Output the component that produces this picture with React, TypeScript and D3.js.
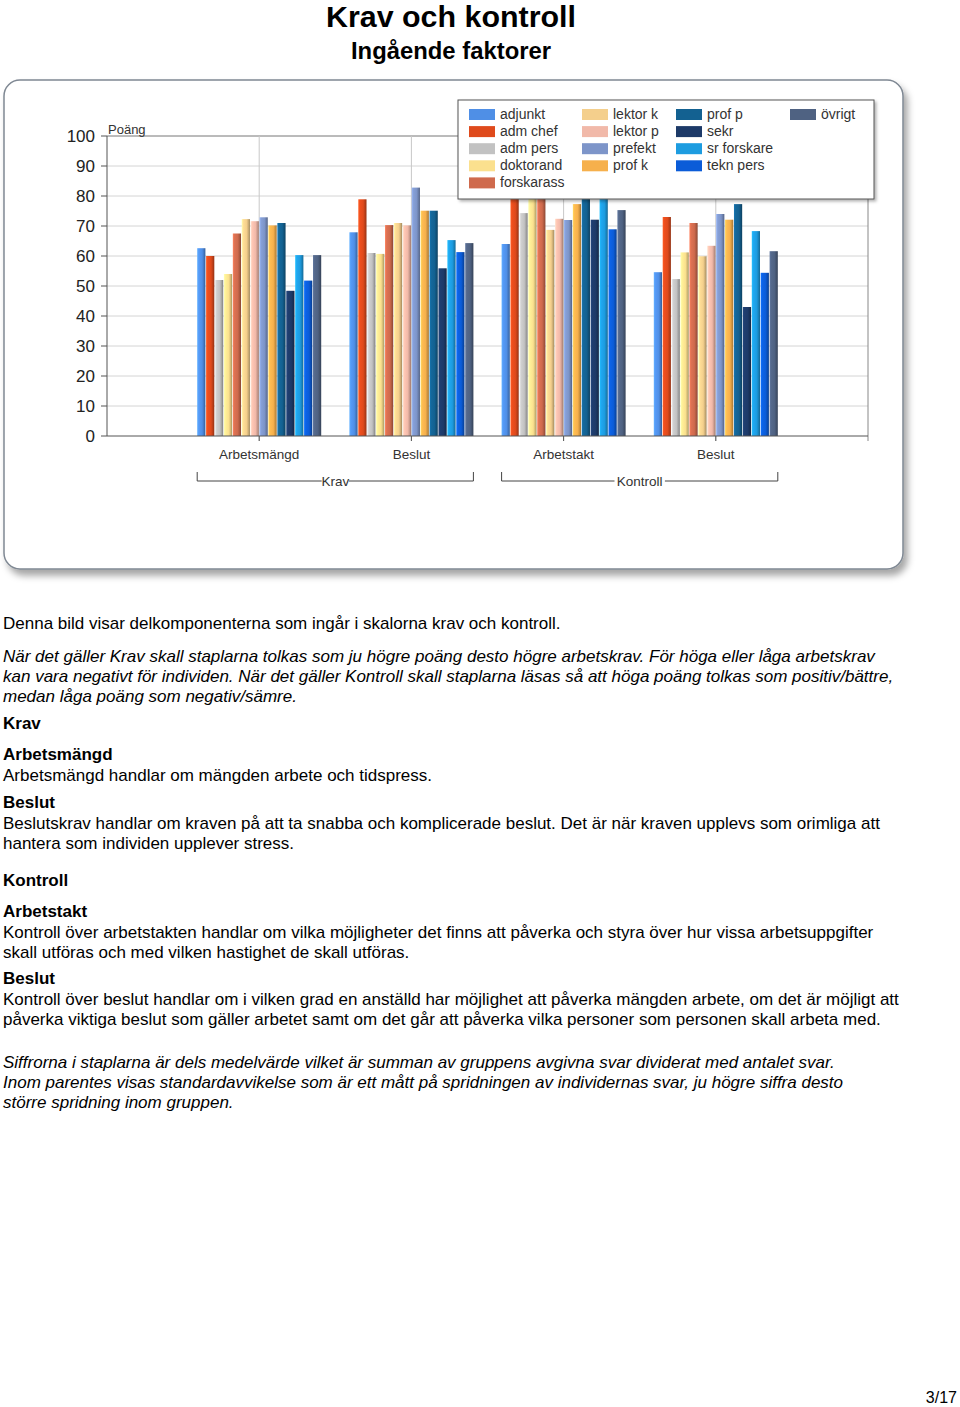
import React from "react";
import * as d3 from "d3";

// serier (yrkesgrupper) och färger
const series = [
  "adjunkt", "adm chef", "adm pers", "doktorand", "forskarass",
  "lektor k", "lektor p", "prefekt", "prof k",
  "prof p", "sekr", "sr forskare", "tekn pers",
  "övrigt",
];
const colors = [
  "#4f8fe6", "#df4a1c", "#c2c2c2", "#fbe08e", "#cf6a4d",
  "#f4cf8c", "#f1b9a9", "#7d95c9", "#f6b04c",
  "#136191", "#1d3a68", "#1d9ce0", "#0b5cd8",
  "#4f6282",
];

const categories = ["Arbetsmängd", "Beslut", "Arbetstakt", "Beslut"];
const groupLabels = ["Krav", "Kontroll"];
const yTicks = [0, 10, 20, 30, 40, 50, 60, 70, 80, 90, 100];

// medelvärden per delkomponent, i samma ordning som series
const kravArbetsmangd = [62.6, 60, 52, 54, 67.5, 72.3, 71.6, 72.9, 70.2, 71, 48.4, 60.3, 51.8, 60.3];
const kravBeslut = [67.9, 78.9, 61, 60.7, 70.3, 71, 70.2, 82.8, 75.1, 75.1, 55.9, 65.3, 61.3, 64.3];
const kontrollArbetstakt = [64, 84, 74.3, 81, 82, 68.7, 72.4, 72, 77.3, 86, 72.1, 87, 68.9, 75.3];
const kontrollBeslut = [54.6, 73, 52.3, 61.2, 71, 59.9, 63.4, 74, 72.1, 77.3, 43, 68.3, 54.4, 61.6];
const values = [kravArbetsmangd, kravBeslut, kontrollArbetstakt, kontrollBeslut];

type Line = { t: string; y: number; s?: "b" | "i" };
const textLines: Line[] = [
  { t: "Denna bild visar delkomponenterna som ingår i skalorna krav och kontroll.", y: 629 },
  { t: "När det gäller Krav skall staplarna tolkas som ju högre poäng desto högre arbetskrav. För höga eller låga arbetskrav", y: 662, s: "i" },
  { t: "kan vara negativt för individen.  När det gäller Kontroll skall staplarna läsas så att höga poäng tolkas som positiv/bättre,", y: 682, s: "i" },
  { t: "medan låga poäng som negativ/sämre.", y: 702, s: "i" },
  { t: "Krav", y: 729, s: "b" },
  { t: "Arbetsmängd", y: 760, s: "b" },
  { t: "Arbetsmängd handlar om mängden arbete och tidspress.", y: 781 },
  { t: "Beslut", y: 808, s: "b" },
  { t: "Beslutskrav handlar om kraven på att ta snabba och komplicerade beslut. Det är när kraven upplevs som orimliga att", y: 829 },
  { t: "hantera som individen upplever stress.", y: 849 },
  { t: "Kontroll", y: 886, s: "b" },
  { t: "Arbetstakt", y: 917, s: "b" },
  { t: "Kontroll över arbetstakten handlar om vilka möjligheter det finns att påverka och styra över hur vissa arbetsuppgifter", y: 938 },
  { t: "skall utföras och med vilken hastighet de skall utföras.", y: 958 },
  { t: "Beslut", y: 984, s: "b" },
  { t: "Kontroll över beslut handlar om i vilken grad en anställd har möjlighet att påverka mängden arbete, om det är möjligt att", y: 1005 },
  { t: "påverka viktiga beslut som gäller arbetet samt om det går att påverka vilka personer som personen skall arbeta med.", y: 1025 },
  { t: "Siffrorna i staplarna är dels medelvärde vilket är summan av gruppens avgivna svar dividerat med antalet svar.", y: 1068, s: "i" },
  { t: "Inom parentes visas standardavvikelse som är ett mått på spridningen av individernas svar, ju högre siffra desto", y: 1088, s: "i" },
  { t: "större spridning inom gruppen.", y: 1108, s: "i" },
];

const sans = "'Liberation Sans', Arial, Helvetica, sans-serif";
const narrow = "'Liberation Sans Narrow', 'Arial Narrow', 'Liberation Sans', sans-serif";

export default function App() {
  const left = 107, right = 868, top = 136, bottom = 436;
  const x = d3.scaleLinear().domain([0, 5]).range([left, right]);
  const y = d3.scaleLinear().domain([0, 100]).range([bottom, top]);
  const inner = d3.scaleBand().domain(series).range([-62, 62]).paddingInner(0.08);

  // legend layout: kolumner med 5, 4, 4, 1 poster
  const legendCols = [[0, 1, 2, 3, 4], [5, 6, 7, 8], [9, 10, 11, 12], [13]];
  const colX = [469, 582, 676, 790];

  return (
    <svg width={960} height={1407} style={{ position: "absolute", left: 0, top: 0, background: "#fff" }}>
      <defs>
        <filter id="shadow" x="-5%" y="-5%" width="115%" height="120%">
          <feDropShadow dx="4" dy="6" stdDeviation="3.5" floodColor="#000" floodOpacity="0.35" />
        </filter>
        <filter id="lshadow" x="-5%" y="-5%" width="115%" height="130%">
          <feDropShadow dx="2" dy="2" stdDeviation="1.5" floodColor="#000" floodOpacity="0.3" />
        </filter>
        {colors.map((c, i) => {
          const base = d3.color(c)!;
          return (
            <linearGradient key={i} id={`g${i}`} x1="0" x2="1" y1="0" y2="0">
              <stop offset="0%" stopColor={base.brighter(0.6).formatHex()} />
              <stop offset="20%" stopColor={base.brighter(0.2).formatHex()} />
              <stop offset="60%" stopColor={base.formatHex()} />
              <stop offset="85%" stopColor={base.darker(0.6).formatHex()} />
              <stop offset="100%" stopColor={base.darker(1.2).formatHex()} />
            </linearGradient>
          );
        })}
      </defs>

      {/* rubriker */}
      <text x={451} y={27} textAnchor="middle" fontFamily={narrow} fontWeight="bold" fontSize={29}
        textLength={250} lengthAdjust="spacingAndGlyphs">Krav och kontroll</text>
      <text x={451} y={59} textAnchor="middle" fontFamily={narrow} fontWeight="bold" fontSize={24}
        textLength={200} lengthAdjust="spacingAndGlyphs">Ingående faktorer</text>

      {/* ram */}
      <rect x={4} y={80} width={899} height={489} rx={16} fill="#fff" stroke="#7f8893" strokeWidth={1.5} filter="url(#shadow)" />

      {/* rutnät */}
      {yTicks.slice(1).map((t) => (
        <line key={t} x1={left} x2={right} y1={y(t)} y2={y(t)} stroke={t === 100 ? "#777" : "#d4d4d4"} />
      ))}
      {[1, 2, 3, 4, 5].map((k) => (
        <line key={k} x1={x(k)} x2={x(k)} y1={top} y2={bottom + 5} stroke={k === 5 ? "#888" : "#c8c8c8"} />
      ))}

      {/* staplar */}
      {values.map((vals, ci) =>
        vals.map((v, si) => (
          <rect key={`${ci}-${si}`} x={x(ci + 1) + inner(series[si])!} y={y(v)}
            width={inner.bandwidth()} height={y(0) - y(v)} fill={`url(#g${si})`} />
        ))
      )}

      {/* axlar */}
      <line x1={left} x2={left} y1={top} y2={bottom} stroke="#555" />
      <line x1={left} x2={right} y1={bottom} y2={bottom} stroke="#555" />
      {yTicks.map((t) => (
        <g key={t}>
          <line x1={left - 6} x2={left} y1={y(t)} y2={y(t)} stroke="#555" />
          <text x={95} y={y(t) + 6} textAnchor="end" fontFamily={sans} fontSize={17} fill="#222">{t}</text>
        </g>
      ))}
      {[1, 2, 3, 4].map((k) => (
        <line key={k} x1={x(k)} x2={x(k)} y1={bottom} y2={bottom + 5} stroke="#555" />
      ))}
      <text x={108} y={134} fontFamily={sans} fontSize={13} fill="#333">Poäng</text>

      {categories.map((c, i) => (
        <text key={i} x={x(i + 1)} y={459} textAnchor="middle" fontFamily={sans} fontSize={13.5} fill="#333">{c}</text>
      ))}
      {groupLabels.map((g, gi) => {
        const x0 = x(gi * 2 + 1) + inner(series[0])!;
        const x1 = x(gi * 2 + 2) + inner(series[series.length - 1])! + inner.bandwidth();
        const cx = (x0 + x1) / 2;
        const half = g.length * 2.9 + 2;
        return (
          <g key={g}>
            <path d={`M${x0},472V481H${cx - half}M${cx + half},481H${x1}V472`} fill="none" stroke="#444" />
            <text x={cx} y={486} textAnchor="middle" fontFamily={sans} fontSize={13.5} fill="#333">{g}</text>
          </g>
        );
      })}

      {/* legend */}
      <rect x={458} y={100} width={416} height={99} fill="#fff" stroke="#555" filter="url(#lshadow)" />
      {legendCols.map((col, c) =>
        col.map((si, r) => (
          <g key={si}>
            <rect x={colX[c]} y={109 + r * 17.1} width={26} height={11} fill={colors[si]} />
            <text x={colX[c] + 31} y={119 + r * 17.1} fontFamily={sans} fontSize={14} fill="#333">{series[si]}</text>
          </g>
        ))
      )}

      {/* brödtext */}
      {textLines.map((l, i) => (
        <text key={i} x={3} y={l.y} fontFamily={sans} fontSize={17} fill="#000"
          fontStyle={l.s === "i" ? "italic" : "normal"} fontWeight={l.s === "b" ? "bold" : "normal"}>{l.t}</text>
      ))}
      <text x={957} y={1403} textAnchor="end" fontFamily={sans} fontSize={16}>3/17</text>
    </svg>
  );
}
